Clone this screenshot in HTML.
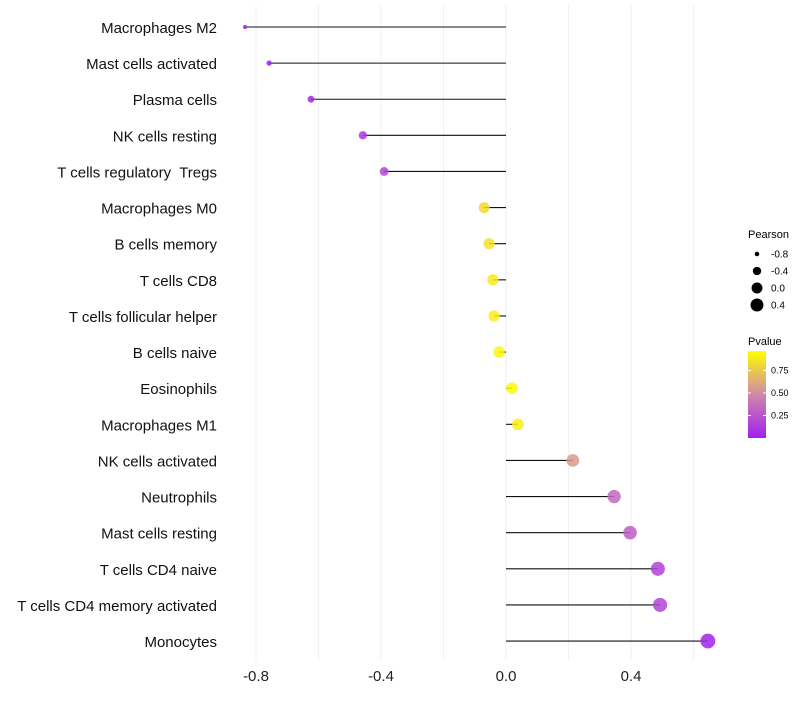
<!DOCTYPE html>
<html><head><meta charset="utf-8"><style>
body{margin:0;background:#fff;font-family:"Liberation Sans",sans-serif}
text{white-space:pre}
</style></head><body>
<svg id="c" width="800" height="700" xmlns="http://www.w3.org/2000/svg" xml:space="preserve">
<defs><linearGradient id="pg" x1="0" y1="1" x2="0" y2="0">
<stop offset="0" stop-color="#a020f0"/><stop offset="0.5" stop-color="#d088a8"/><stop offset="1" stop-color="#ffff00"/></linearGradient></defs>
<g id="grid"></g><g id="marks"></g><g id="labels"></g>
<g font-size="10" fill="#000">
<text x="748" y="238" font-size="11">Pearson</text>
<g id="sizeleg"></g>
</g>
<g>
<text x="748" y="345" font-size="11">Pvalue</text>
<rect x="748" y="351" width="18" height="87" fill="url(#pg)"/>
<g id="colleg" font-size="9"></g>
</g>
</svg>
<script>
const categories=["Macrophages M2","Mast cells activated","Plasma cells","NK cells resting","T cells regulatory  Tregs","Macrophages M0","B cells memory","T cells CD8","T cells follicular helper","B cells naive","Eosinophils","Macrophages M1","NK cells activated","Neutrophils","Mast cells resting","T cells CD4 naive","T cells CD4 memory activated","Monocytes"];
const pearson=[-0.835,-0.758,-0.624,-0.458,-0.39,-0.07,-0.054,-0.042,-0.038,-0.022,0.019,0.038,0.214,0.346,0.397,0.486,0.493,0.646];
const pvalues=[0.0,0.01,0.03,0.12,0.18,0.85,0.88,0.92,0.93,0.97,0.98,0.93,0.58,0.35,0.3,0.17,0.18,0.02];
const xTicks=[-0.8,-0.4,0.0,0.4];
const sizeTicks=[-0.8,-0.4,0.0,0.4];
const colorTicks=[0.25,0.5,0.75];
const NS="http://www.w3.org/2000/svg";
const X=v=>506+v*312.5;
const Y=i=>27+i*36.12;
const R=v=>Math.sqrt(Math.max(2.5,33+34*v));
const CY=p=>438-p*90;
function col(p){const a=[160,32,240],m=[208,136,168],b=[255,255,0];let s,e,t;if(p<0.5){s=a;e=m;t=p/0.5}else{s=m;e=b;t=(p-0.5)/0.5}
return `rgb(${s.map((c,k)=>Math.round(c+(e[k]-c)*t)).join(',')})`;}
function mk(tag,attrs,parent){const e=document.createElementNS(NS,tag);for(const k in attrs)e.setAttribute(k,attrs[k]);parent.appendChild(e);return e;}
const grid=document.getElementById('grid'),marks=document.getElementById('marks'),labels=document.getElementById('labels');
for(let v=-0.8;v<=0.61;v+=0.2){const l=mk('line',{x1:X(v),x2:X(v),y1:5,y2:660,stroke:'#f0f0f0','stroke-width':1},grid);

}
xTicks.forEach(t=>{const e=mk('text',{x:X(t),y:681,'text-anchor':'middle','font-size':15,fill:'#222'},labels);e.textContent=t.toFixed(1);

});
categories.forEach((c,i)=>{const y=Y(i);
const t=mk('text',{x:217,y:y+6,'text-anchor':'end','font-size':15,fill:'#111'},labels);t.textContent=c;


const ln=mk('line',{x1:X(0),x2:X(pearson[i]),y1:y,y2:y,stroke:'#111','stroke-width':1.1},marks);


const ci=mk('circle',{cx:X(pearson[i]),cy:y,r:R(pearson[i]),fill:col(pvalues[i]),'fill-opacity':0.85},marks);

});
const sl=document.getElementById('sizeleg');
sizeTicks.forEach((v,i)=>{const y=254+i*17;
const c=mk('circle',{cx:757,cy:y,r:R(v)*0.95,fill:'#000'},sl);


const t=mk('text',{x:771,y:y+3.5},sl);t.textContent=v.toFixed(1);

});
const cl=document.getElementById('colleg');
colorTicks.forEach(p=>{const y=CY(p);
const l=mk('line',{x1:748,x2:751,y1:y,y2:y,stroke:'#fff'},cl);
const l2=mk('line',{x1:763,x2:766,y1:y,y2:y,stroke:'#fff'},cl);
const t=mk('text',{x:771,y:y+3,fill:'#000'},cl);t.textContent=p.toFixed(2);

});
</script>
</body></html>
